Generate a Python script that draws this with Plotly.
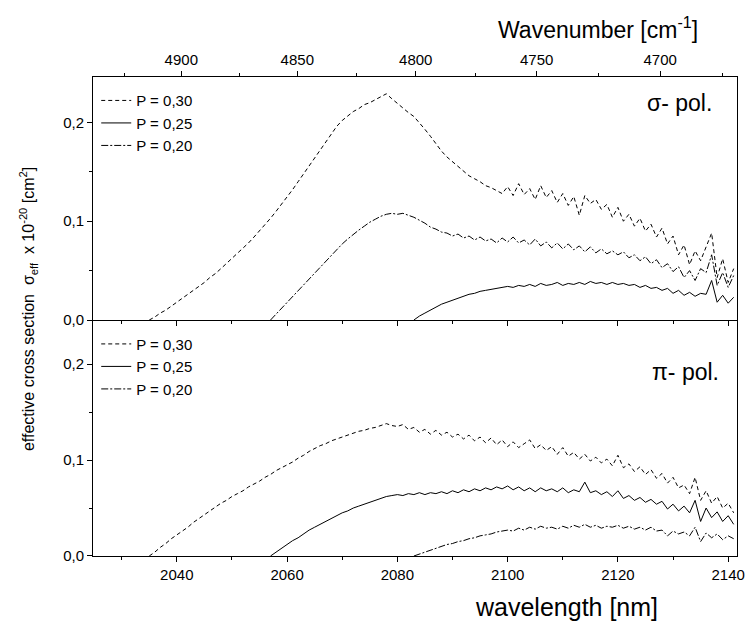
import plotly.graph_objects as go

wavelength_nm = [
    2035, 2036, 2037, 2038, 2039, 2040, 2041, 2042, 2043, 2044, 2045, 2046, 2047, 2048, 2049,
    2050, 2051, 2052, 2053, 2054, 2055, 2056, 2057, 2058, 2059, 2060, 2061, 2062, 2063, 2064,
    2065, 2066, 2067, 2068, 2069, 2070, 2071, 2072, 2073, 2074, 2075, 2076, 2077, 2078, 2079,
    2080, 2081, 2082, 2083, 2084, 2085, 2086, 2087, 2088, 2089, 2090, 2091, 2092, 2093, 2094,
    2095, 2096, 2097, 2098, 2099, 2100, 2101, 2102, 2103, 2104, 2105, 2106, 2107, 2108, 2109,
    2110, 2111, 2112, 2113, 2114, 2115, 2116, 2117, 2118, 2119, 2120, 2121, 2122, 2123, 2124,
    2125, 2126, 2127, 2128, 2129, 2130, 2131, 2132, 2133, 2134, 2135, 2136, 2137, 2138, 2139,
    2140, 2141]

# sigma polarisation (top panel)
sigma_p030 = [
    0.000, 0.003, 0.007, 0.010, 0.014, 0.018, 0.022, 0.026, 0.030, 0.034, 0.038, 0.043, 0.047, 0.052, 0.057,
    0.062, 0.067, 0.073, 0.078, 0.084, 0.090, 0.096, 0.103, 0.110, 0.117, 0.124, 0.132, 0.140, 0.148, 0.157,
    0.165, 0.173, 0.181, 0.188, 0.196, 0.202, 0.207, 0.211, 0.214, 0.218, 0.220, 0.223, 0.226, 0.229, 0.224,
    0.219, 0.214, 0.210, 0.206, 0.200, 0.193, 0.186, 0.178, 0.171, 0.165, 0.160, 0.155, 0.150, 0.146, 0.143,
    0.140, 0.136, 0.134, 0.131, 0.128, 0.135, 0.126, 0.138, 0.127, 0.133, 0.122, 0.136, 0.124, 0.131, 0.119,
    0.128, 0.116, 0.125, 0.106, 0.126, 0.118, 0.122, 0.112, 0.117, 0.104, 0.114, 0.100, 0.107, 0.095, 0.103,
    0.090, 0.097, 0.084, 0.093, 0.077, 0.085, 0.066, 0.076, 0.056, 0.070, 0.060, 0.074, 0.088, 0.043, 0.062,
    0.038, 0.052]
sigma_p020 = [None] * 22 + [
    0.000, 0.006, 0.012, 0.018, 0.024, 0.030, 0.036, 0.042,
    0.048, 0.054, 0.060, 0.066, 0.072, 0.077, 0.082, 0.087, 0.091, 0.095, 0.099, 0.102, 0.105, 0.107, 0.108,
    0.107, 0.108, 0.106, 0.104, 0.101, 0.098, 0.094, 0.092, 0.089, 0.088, 0.085, 0.087, 0.083, 0.085, 0.081,
    0.084, 0.080, 0.082, 0.078, 0.083, 0.079, 0.084, 0.078, 0.081, 0.076, 0.082, 0.075, 0.079, 0.073, 0.078,
    0.072, 0.077, 0.071, 0.075, 0.069, 0.074, 0.068, 0.072, 0.067, 0.070, 0.066, 0.069, 0.063, 0.066, 0.060,
    0.064, 0.057, 0.061, 0.053, 0.057, 0.049, 0.054, 0.043, 0.050, 0.040, 0.052, 0.048, 0.066, 0.035, 0.048,
    0.033, 0.045]
sigma_p025 = [None] * 48 + [
    0.000, 0.004, 0.007, 0.010, 0.013, 0.016, 0.018, 0.020, 0.022, 0.024, 0.026, 0.027,
    0.029, 0.030, 0.031, 0.032, 0.033, 0.034, 0.033, 0.035, 0.034, 0.036, 0.034, 0.037, 0.035, 0.036, 0.038,
    0.035, 0.037, 0.036, 0.038, 0.036, 0.039, 0.037, 0.038, 0.036, 0.038, 0.036, 0.037, 0.035, 0.036, 0.033,
    0.035, 0.032, 0.033, 0.030, 0.032, 0.027, 0.030, 0.025, 0.028, 0.024, 0.027, 0.026, 0.040, 0.018, 0.025,
    0.017, 0.023]

# pi polarisation (bottom panel)
pi_p030 = [
    0.000, 0.004, 0.009, 0.013, 0.018, 0.022, 0.026, 0.030, 0.035, 0.039, 0.043, 0.047, 0.051, 0.055, 0.058,
    0.062, 0.065, 0.068, 0.072, 0.075, 0.078, 0.082, 0.085, 0.089, 0.092, 0.095, 0.098, 0.102, 0.105, 0.109,
    0.112, 0.115, 0.117, 0.120, 0.122, 0.124, 0.126, 0.128, 0.130, 0.131, 0.133, 0.134, 0.136, 0.138, 0.136,
    0.135, 0.137, 0.132, 0.134, 0.129, 0.132, 0.127, 0.131, 0.126, 0.129, 0.124, 0.127, 0.122, 0.126, 0.120,
    0.124, 0.118, 0.123, 0.116, 0.121, 0.114, 0.119, 0.113, 0.117, 0.121, 0.112, 0.116, 0.110, 0.114, 0.106,
    0.113, 0.104, 0.108, 0.101, 0.106, 0.099, 0.103, 0.097, 0.101, 0.094, 0.105, 0.092, 0.096, 0.088, 0.093,
    0.085, 0.090, 0.081, 0.086, 0.076, 0.082, 0.071, 0.074, 0.065, 0.082, 0.058, 0.068, 0.055, 0.062, 0.050,
    0.055, 0.045]
pi_p025 = [None] * 22 + [
    0.000, 0.004, 0.008, 0.012, 0.016, 0.019, 0.023, 0.027,
    0.030, 0.033, 0.036, 0.039, 0.042, 0.045, 0.047, 0.050, 0.052, 0.054, 0.056, 0.058, 0.060, 0.062, 0.063,
    0.064, 0.063, 0.065, 0.064, 0.066, 0.064, 0.066, 0.065, 0.067, 0.065, 0.068, 0.066, 0.069, 0.067, 0.070,
    0.068, 0.071, 0.069, 0.072, 0.070, 0.073, 0.069, 0.072, 0.068, 0.071, 0.067, 0.071, 0.068, 0.070, 0.067,
    0.071, 0.066, 0.069, 0.067, 0.077, 0.066, 0.068, 0.064, 0.067, 0.062, 0.068, 0.060, 0.063, 0.058, 0.061,
    0.056, 0.059, 0.054, 0.057, 0.049, 0.054, 0.047, 0.052, 0.045, 0.058, 0.036, 0.050, 0.040, 0.046, 0.036,
    0.042, 0.033]
pi_p020 = [None] * 48 + [
    0.000, 0.002, 0.004, 0.006, 0.008, 0.010, 0.012, 0.013, 0.015, 0.016, 0.018, 0.019,
    0.021, 0.022, 0.023, 0.025, 0.026, 0.027, 0.026, 0.029, 0.027, 0.030, 0.028, 0.031, 0.029, 0.030, 0.028,
    0.031, 0.029, 0.032, 0.030, 0.033, 0.030, 0.032, 0.029, 0.031, 0.030, 0.032, 0.029, 0.031, 0.028, 0.030,
    0.027, 0.030, 0.026, 0.027, 0.021, 0.026, 0.023, 0.025, 0.021, 0.030, 0.015, 0.024, 0.019, 0.023, 0.017,
    0.021, 0.018]

legend_names = ["P = 0,30", "P = 0,25", "P = 0,20"]
wavenumber_ticks = [4900, 4850, 4800, 4750, 4700]
wavenumber_minor = [4925, 4875, 4825, 4775, 4725, 4675]
y_ticks = [0.0, 0.1, 0.2]
y_ticktext = ["0,0", "0,1", "0,2"]

FONT = "Liberation Sans, Arial, sans-serif"
X_RANGE = [2024.8, 2141.6]
Y_RANGE = [0, 0.246]
SPLIT = 0.4927

dash_styles = ["4px,3px", "solid", "7px,2px,2px,2px"]

fig = go.Figure()
for name, vals, dash in zip(legend_names, [sigma_p030, sigma_p025, sigma_p020], dash_styles):
    fig.add_trace(go.Scatter(x=wavelength_nm, y=vals, mode="lines", name=name,
                             line=dict(color="black", width=1, dash=dash),
                             xaxis="x2", yaxis="y2", legend="legend", connectgaps=False))
for name, vals, dash in zip(legend_names, [pi_p030, pi_p025, pi_p020], dash_styles):
    fig.add_trace(go.Scatter(x=wavelength_nm, y=vals, mode="lines", name=name,
                             line=dict(color="black", width=1, dash=dash),
                             xaxis="x", yaxis="y", legend="legend2", connectgaps=False))
# invisible trace to carry the top wavenumber axis
fig.add_trace(go.Scatter(x=X_RANGE, y=[None, None], mode="lines", showlegend=False,
                         xaxis="x3", yaxis="y2", hoverinfo="skip"))

axis_common = dict(showline=True, linecolor="black", linewidth=1, showgrid=False,
                   zeroline=False, ticks="outside", tickcolor="black", tickwidth=1,
                   tickfont=dict(family=FONT, size=15, color="black"))

legend_font = dict(family=FONT, size=15, color="black")

fig.update_layout(
    width=756, height=622,
    margin=dict(l=93, r=11, t=77, b=66),
    paper_bgcolor="white", plot_bgcolor="white",
    showlegend=True,
    font=dict(family=FONT, color="black"),
    xaxis=dict(**axis_common, domain=[0, 1], range=X_RANGE, anchor="y",
               tickmode="linear", tick0=2040, dtick=20, ticklen=5,
               minor=dict(dtick=10, tick0=2030, ticks="outside", ticklen=3, tickcolor="black")),
    yaxis=dict(**axis_common, domain=[0, SPLIT], range=Y_RANGE, anchor="x", mirror=True,
               tickvals=y_ticks, ticktext=y_ticktext, ticklen=5,
               minor=dict(dtick=0.05, tick0=0, ticks="outside", ticklen=3, tickcolor="black")),
    xaxis2=dict(**axis_common, domain=[0, 1], range=X_RANGE, anchor="y2", matches="x",
                showticklabels=False, tickmode="linear", tick0=2040, dtick=20, ticklen=5,
                minor=dict(dtick=10, tick0=2030, ticks="outside", ticklen=3, tickcolor="black")),
    yaxis2=dict(**axis_common, domain=[SPLIT, 1], range=Y_RANGE, anchor="x2", mirror=True,
                tickvals=y_ticks, ticktext=y_ticktext, ticklen=5,
                minor=dict(dtick=0.05, tick0=0, ticks="outside", ticklen=3, tickcolor="black")),
    xaxis3=dict(**axis_common, range=X_RANGE, overlaying="x2", anchor="y2", side="top",
                tickmode="array", tickvals=[1e7 / k for k in wavenumber_ticks],
                ticktext=[str(k) for k in wavenumber_ticks], ticklen=5,
                minor=dict(tickmode="array", tickvals=[1e7 / k for k in wavenumber_minor],
                           ticks="outside", ticklen=3, tickcolor="black")),
    legend=dict(x=0.005, y=0.985, xanchor="left", yanchor="top", bgcolor="rgba(0,0,0,0)",
                font=legend_font, tracegroupgap=0, itemwidth=30, borderwidth=0),
    legend2=dict(x=0.005, y=SPLIT - 0.016, xanchor="left", yanchor="top", bgcolor="rgba(0,0,0,0)",
                 font=legend_font, tracegroupgap=0, itemwidth=30, borderwidth=0),
)

fig.add_annotation(text="effective cross section  σ<sub>eff</sub>  x 10<sup>-20</sup> [cm<sup>2</sup>]",
                   xref="paper", yref="paper", x=-0.0997, y=0.515, textangle=-90,
                   showarrow=False, font=dict(family=FONT, size=16, color="black"),
                   xanchor="center", yanchor="middle")
fig.add_annotation(text="Wavenumber [cm<sup>-1</sup>]", xref="paper", yref="paper",
                   x=0.784, y=1.102, showarrow=False, xanchor="center", yanchor="middle",
                   font=dict(family=FONT, size=23, color="black"))
fig.add_annotation(text="wavelength [nm]", xref="paper", yref="paper",
                   x=0.735, y=-0.106, showarrow=False, xanchor="center", yanchor="middle",
                   font=dict(family=FONT, size=25, color="black"))
fig.add_annotation(text="σ- pol.", xref="paper", yref="paper",
                   x=0.91, y=0.945, showarrow=False, xanchor="center", yanchor="middle",
                   font=dict(family=FONT, size=23, color="black"))
fig.add_annotation(text="π- pol.", xref="paper", yref="paper",
                   x=0.92, y=0.385, showarrow=False, xanchor="center", yanchor="middle",
                   font=dict(family=FONT, size=23, color="black"))

fig.write_html("out.html")
